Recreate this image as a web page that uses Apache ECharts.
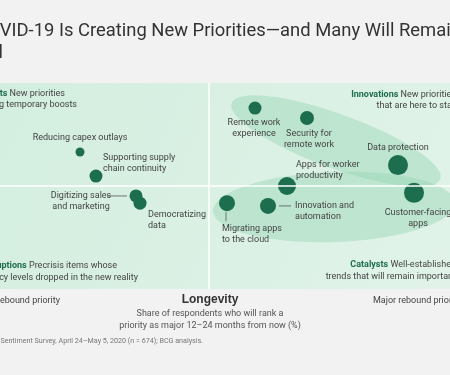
<!DOCTYPE html>
<html>
<head>
<meta charset="utf-8">
<script src="https://cdn.jsdelivr.net/npm/echarts@6/dist/echarts.min.js"></script>
<style>
html,body{margin:0;padding:0;background:#f2f2f2;}
#main{width:450px;height:375px;}
</style>
</head>
<body>
<div id="main"></div>
<script>
// priorities
var names = ['Reducing capex outlays', 'Supporting supply chain continuity', 'Digitizing sales and marketing',
    'Democratizing data', 'Remote work experience', 'Security for remote work', 'Data protection',
    'Apps for worker productivity', 'Customer-facing apps', 'Migrating apps to the cloud', 'Innovation and automation'];
// x: share ranking it major 12-24 months from now (%)
var longevity = [17.1, 18.7, 22.7, 23.1, 34.6, 39.8, 48.9, 37.8, 50.5, 31.8, 35.9];
// y: share ranking it major now (%)
var urgency = [39.9, 32.9, 27.1, 25.0, 52.7, 49.8, 36.1, 30.0, 28.0, 25.0, 24.2];
// bubble weight
var weight = [9, 13, 13, 13, 13, 14, 20, 18, 20, 16, 16];

var midX = 30, midY = 30;
// visible window of the x scale (the picture is a crop)
var xMin = 9.1, xMax = 54.1;

var FONT = 'Roboto';
var GREEN = '#1d6e4e';
var TXT = '#444';

// label placement per point (offset from the bubble centre, px)
var labelCfg = [
    {t: 'Reducing capex outlays', o: [0, -14], a: 'center'},
    {t: 'Supporting supply\nchain continuity', o: [7, -13], a: 'left'},
    {t: 'Digitizing sales\nand marketing', o: [-55, 5.5], a: 'center'},
    {t: 'Democratizing\ndata', o: [8, 17.5], a: 'left'},
    {t: 'Remote work\nexperience', o: [-1, 20], a: 'center'},
    {t: 'Security for\nremote work', o: [2, 21.5], a: 'center'},
    {t: 'Data protection', o: [0, -17], a: 'center'},
    {t: 'Apps for worker\nproductivity', o: [9, -15.5], a: 'left'},
    {t: 'Customer-facing\napps', o: [4, 25.5], a: 'center'},
    {t: 'Migrating apps\nto the cloud', o: [-5, 31.5], a: 'left'},
    {t: 'Innovation and\nautomation', o: [27, 5.5], a: 'left'}
];
// short leader lines: [point index, dx1, dy1, dx2, dy2]
var leaders = [[2, -29, 0, -9, 0], [10, 11, 0, 23, 0], [9, -1, 9, -1, 18]];

var points = names.map(function(n, i){
    return {
        name: n,
        value: [longevity[i], urgency[i], weight[i]],
        label: {
            show: true, position: 'inside', formatter: labelCfg[i].t,
            offset: labelCfg[i].o, align: labelCfg[i].a, verticalAlign: 'middle'
        }
    };
});

// grouping ellipses (pixel radii, angle in degrees)
var clusters = [
    {c: [42.7, 43.1], rx: 111, ry: 27, rot: 20},
    {c: [42.5, 23.9], rx: 121, ry: 35, rot: -2}
];

var chart = echarts.init(document.getElementById('main'));

var measure = function(txt, font){
    var cv = document.createElement('canvas').getContext('2d');
    cv.font = font;
    return cv.measureText(txt).width;
};

var titleFont = '18.4px ' + FONT;
var titleX = -measure('How CO', titleFont);

var txt = function(x, y, text, align, size, color, extra){
    var st = {
        text: text, x: x, y: y, font: (size || 9) + 'px ' + FONT, fill: color || TXT,
        align: align || 'left', textAlign: align || 'left',
        verticalAlign: 'middle', textVerticalAlign: 'middle'
    };
    if(extra){ for(var k in extra){ st[k] = extra[k]; } }
    return {type: 'text', z: 100, style: st};
};
var richB = {b: {fontWeight: 'bold', fill: GREEN, color: GREEN, fontFamily: FONT, fontSize: 9}};

var chartOpt = {
    backgroundColor: '#f2f2f2',
    animation: false,
    grid: {
        show: true, borderWidth: 0, left: 0, right: 0, top: 83, height: 206,
        backgroundColor: new echarts.graphic.LinearGradient(0, 0, 1, 1, [
            {offset: 0, color: '#d3eedf'}, {offset: 1, color: '#e1f3e9'}
        ])
    },
    xAxis: {type: 'value', min: xMin, max: xMax, show: false},
    yAxis: {type: 'value', min: 0, max: 60, show: false},
    series: [
        {
            type: 'line', data: [], z: 1,
            markLine: {
                silent: true, symbol: 'none', label: {show: false},
                lineStyle: {color: '#ffffff', width: 1.5, type: 'solid'},
                data: [{xAxis: midX}, {yAxis: midY}]
            }
        },
        {
            type: 'custom', z: 2, silent: true,
            data: clusters.map(function(c){ return [c.c[0], c.c[1]]; }),
            renderItem: function(params, api){
                var cl = clusters[params.dataIndex];
                var p = api.coord([api.value(0), api.value(1)]);
                return {
                    type: 'circle', x: p[0], y: p[1],
                    rotation: -cl.rot * Math.PI / 180, scaleX: cl.rx / cl.ry,
                    shape: {cx: 0, cy: 0, r: cl.ry},
                    style: {fill: 'rgba(150,212,180,0.45)'}
                };
            }
        },
        {
            type: 'custom', z: 3, silent: true,
            data: leaders.map(function(l){ return [longevity[l[0]], urgency[l[0]]]; }),
            renderItem: function(params, api){
                var l = leaders[params.dataIndex];
                var p = api.coord([api.value(0), api.value(1)]);
                return {
                    type: 'line',
                    shape: {x1: p[0] + l[1], y1: p[1] + l[2], x2: p[0] + l[3], y2: p[1] + l[4]},
                    style: {stroke: '#555', lineWidth: 0.8}
                };
            }
        },
        {
            type: 'scatter', z: 4,
            symbolSize: function(v){ return v[2]; },
            itemStyle: {color: GREEN, opacity: 1},
            label: {color: TXT, fontFamily: FONT, fontSize: 9, lineHeight: 11},
            data: points
        }
    ],
    graphic: [
        txt(titleX, 31, 'How COVID-19 Is Creating New Priorities—and Many Will Remain', 'left', 18.4, '#333'),
        txt(titleX, 53, 'Elevated', 'left', 18.4, '#333'),
        txt(65, 94, '{b|Spurts} New priorities', 'right', 9, TXT, {rich: richB}),
        txt(77, 105, 'getting temporary boosts', 'right'),
        txt(117, 266, '{b|Interruptions} Precrisis items whose', 'right', 9, TXT, {rich: richB}),
        txt(138, 278, 'urgency levels dropped in the new reality', 'right'),
        txt(456, 95, '{b|Innovations} New priorities', 'right', 9, TXT, {rich: richB}),
        txt(456, 106, 'that are here to stay', 'right'),
        txt(456, 265, '{b|Catalysts} Well-established', 'right', 9, TXT, {rich: richB}),
        txt(456, 277, 'trends that will remain important', 'right'),
        txt(60, 301, 'Minor rebound priority', 'right'),
        txt(373, 301, 'Major rebound priority', 'left'),
        txt(210, 300, 'Longevity', 'center', 11, '#333', {fontWeight: 'bold', font: 'bold 11px ' + FONT}),
        txt(210, 314, 'Share of respondents who will rank a', 'center', 9, '#555'),
        txt(210, 326, 'priority as major 12–24 months from now (%)', 'center', 9, '#555'),
        txt(203, 341, 'Source: BCG COVID-19 IT Buyer Sentiment Survey, April 24–May 5, 2020 (n = 674); BCG analysis.', 'right', 7.15, '#777')
    ]
};

chart.setOption(chartOpt);
</script>
</body>
</html>
